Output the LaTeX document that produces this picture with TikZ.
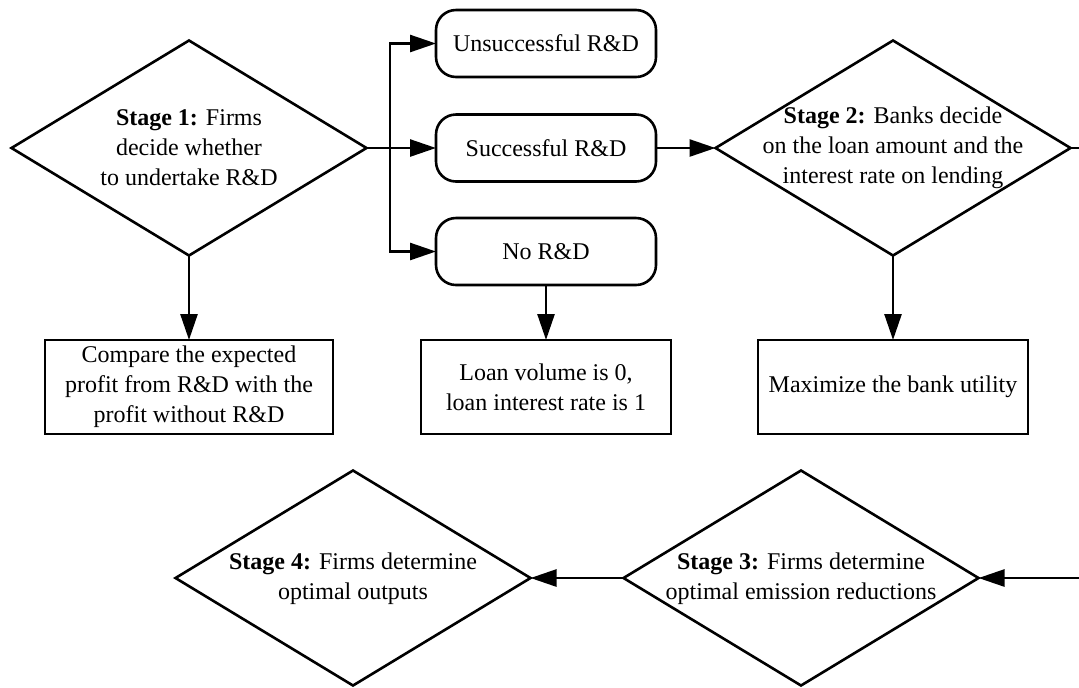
\documentclass[tikz,border=0pt]{standalone}
\usepackage{fontspec}
\setmainfont{Liberation Serif}
\usetikzlibrary{shapes.geometric,arrows.meta}
\begin{document}
\begin{tikzpicture}[x=0.5pt,y=-0.5pt,
  every node/.style={font=\fontsize{12pt}{15pt}\selectfont},
  line/.style={line width=1.3pt},
  arr/.style={line width=1.3pt,-{Triangle[length=13pt,width=8.5pt]}},
  dia/.style={diamond,draw,line width=1.3pt,minimum width=177.5pt,minimum height=107.5pt,inner sep=0pt,outer sep=0pt},
  rbox/.style={draw,line width=1.3pt,rounded corners=10pt,minimum width=110pt,minimum height=33.5pt,inner sep=0pt,outer sep=0pt},
  sbox/.style={draw,line width=1.3pt,minimum height=47pt,inner sep=0pt,outer sep=0pt},
  txt/.style={align=center,inner sep=0pt}]
\useasboundingbox (0,0) rectangle (1079,687);
% diamonds
\node[dia] (d1) at (189,148) {};
\node[txt] at (d1) {\textbf{Stage 1:} Firms\\decide whether\\to undertake R\&D};
\node[dia] (d2) at (893,148) {};
\node[txt] at (d2) {\textbf{Stage 2:} Banks decide\\on the loan amount and the\\interest rate on lending};
\node[dia] (d3) at (801,578) {};
\node[txt] at (801,579) {\textbf{Stage 3:} Firms determine\\optimal emission reductions};
\node[dia] (d4) at (353,578) {};
\node[txt] at (353,579) {\textbf{Stage 4:} Firms determine\\optimal outputs};
% rounded boxes
\node[rbox] (u) at (546,43.5) {Unsuccessful R\&D};
\node[rbox] (s) at (546,148) {Successful R\&D};
\node[rbox] (nr) at (546,251.5) {No R\&D};
% rectangles
\node[sbox,minimum width=144pt] (b1) at (189,387) {};
\node[txt] at (b1) {Compare the expected\\profit from R\&D with the\\profit without R\&D};
\node[sbox,minimum width=125pt] (b2) at (546,387) {};
\node[txt] at (b2) {Loan volume is 0,\\loan interest rate is 1};
\node[sbox,minimum width=135pt] (b3) at (893,387) {};
\node[txt] at (b3) {Maximize the bank utility};
% connectors
\coordinate (br) at (390,148);
\draw[arr] (d1.east) -- (s.west);
\draw[arr] (br) |- (u.west);
\draw[arr] (br) |- (nr.west);
\draw[arr] (s.east) -- (d2.west);
\draw[arr] (d1.south) -- (b1.north);
\draw[arr] (nr.south) -- (b2.north);
\draw[arr] (d2.south) -- (b3.north);
\coordinate (rt) at (1090,148);
\draw[arr] (d2.east) -- (rt) |- (d3.east);
\draw[arr] (d3.west) -- (d4.east);
\end{tikzpicture}
\end{document}
